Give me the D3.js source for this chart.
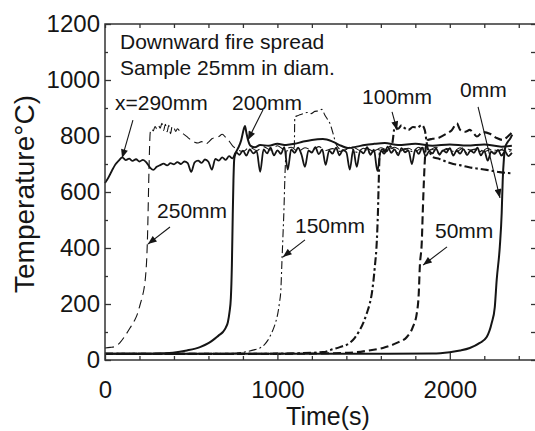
<!DOCTYPE html>
<html><head><meta charset="utf-8">
<script src="https://cdn.jsdelivr.net/npm/d3@7"></script>
<style>
body{margin:0;background:#fff}
svg{display:block}
text{font-family:"Liberation Sans",Arial,sans-serif;fill:#151515}
</style>
</head><body><svg id="c" width="535" height="431"></svg>
<script>
// ---------- data (time s, temperature °C) ----------
const xMajorTicks = [0, 1000, 2000];
const xMinorTicks = [200,400,600,800,1200,1400,1600,1800,2200,2400];
const yMajorTicks = [0,200,400,600,800,1000,1200];
const yMinorTicks = [100,300,500,700,900,1100];

const s290 = [[0,632],[20,652],[40,676],[60,698],[80,712],[100,724],[120,714],[140,719],[160,711],[180,717],[200,709],[220,715],[240,706],[260,688],[280,679],[300,690],[320,696],[340,701],[360,695],[380,703],[400,699],[420,707],[440,700],[460,709],[480,703],[500,672],[520,706],[540,712],[560,704],[580,716],[600,708],[620,680],[640,718],[660,712],[680,724],[700,715],[720,728],[740,720],[760,742],[780,733],[800,748],[820,730],[840,752],[860,738],[880,746],[900,672],[920,752],[940,738],[960,758],[980,731],[1000,749],[1020,736],[1040,760],[1060,680],[1080,752],[1100,740],[1120,758],[1140,733],[1160,690],[1180,748],[1200,741],[1220,760],[1240,735],[1260,752],[1280,697],[1300,748],[1320,737],[1340,758],[1360,731],[1380,750],[1400,742],[1420,680],[1440,752],[1460,690],[1480,747],[1500,738],[1520,760],[1540,733],[1560,751],[1580,675],[1600,748],[1620,737],[1640,762],[1660,740],[1680,752],[1700,731],[1720,757],[1740,742],[1760,749],[1780,700],[1800,751],[1820,736],[1840,758],[1860,728],[1880,745],[1900,738],[1920,756],[1940,733],[1960,749],[1980,741],[2000,757],[2020,730],[2040,748],[2060,737],[2080,753],[2100,732],[2120,748],[2140,740],[2160,758],[2180,731],[2200,747],[2220,712],[2240,744],[2260,736],[2280,750],[2300,730],[2320,745],[2340,728],[2360,740]];

const s250 = [[0,43],[30,45],[58,48],[87,62],[115,85],[145,114],[170,140],[186,161],[200,190],[214,221],[225,250],[232,279],[238,320],[243,375],[247,450],[250,530],[253,620],[256,700],[259,770],[262,810],[270,826],[280,818],[290,834],[300,826],[310,838],[320,828],[330,845],[340,820],[350,842],[360,815],[370,838],[380,808],[390,836],[400,830],[410,816],[420,826],[440,812],[460,805],[480,795],[500,785],[520,778],[540,775],[560,780],[580,770],[600,778],[620,790],[640,795],[660,798],[680,806],[700,795],[720,782],[740,765],[760,755],[800,745],[840,760],[880,748],[920,762],[960,750],[1000,765],[1040,752],[1080,760],[1120,745],[1160,758],[1200,750],[1240,762],[1280,748],[1320,755],[1360,745],[1400,752],[1440,760],[1480,748],[1520,755],[1560,745],[1600,758],[1640,750],[1680,760],[1720,748],[1760,756],[1800,745],[1840,758],[1880,750],[1920,760],[1960,748],[2000,755],[2040,745],[2080,758],[2120,750],[2160,755],[2200,745],[2240,752],[2280,748],[2320,755],[2360,750]];

const s200 = [[0,22],[200,22],[350,24],[394,26],[475,34],[551,46],[600,60],[626,71],[660,88],[684,100],[700,115],[713,136],[722,170],[730,221],[736,339],[741,518],[745,640],[750,720],[760,742],[775,760],[790,785],[805,825],[812,836],[820,812],[830,785],[845,765],[870,760],[900,768],[950,765],[1000,772],[1050,768],[1100,772],[1150,780],[1200,786],[1264,789],[1320,780],[1370,765],[1409,757],[1460,762],[1507,768],[1560,772],[1623,775],[1700,768],[1800,772],[1900,765],[2000,770],[2100,766],[2200,770],[2300,762],[2360,765]];

const s150 = [[0,22],[500,22],[700,23],[823,30],[870,37],[899,43],[925,55],[945,71],[960,88],[974,107],[990,135],[1003,168],[1012,205],[1020,250],[1026,346],[1032,440],[1038,536],[1043,643],[1048,720],[1055,748],[1070,742],[1085,755],[1098,760],[1101,868],[1115,872],[1130,876],[1150,880],[1171,884],[1195,880],[1217,888],[1240,890],[1258,895],[1275,875],[1290,860],[1304,846],[1322,811],[1333,786],[1345,765],[1380,748],[1420,760],[1460,742],[1500,756],[1540,738],[1580,752],[1620,745],[1660,758],[1700,740],[1740,755],[1780,745],[1820,760],[1860,742],[1900,752],[1940,738],[1980,755],[2020,745],[2060,758],[2100,740],[2140,752],[2180,745],[2220,756],[2260,742],[2300,750],[2340,745],[2360,748]];

const s100 = [[0,22],[800,22],[1100,24],[1264,28],[1320,38],[1362,46],[1420,61],[1450,80],[1478,107],[1500,135],[1519,168],[1535,200],[1548,239],[1565,332],[1577,429],[1583,525],[1588,643],[1594,740],[1610,752],[1630,745],[1650,760],[1665,770],[1681,832],[1700,826],[1720,838],[1739,828],[1760,822],[1786,832],[1810,830],[1838,839],[1855,821],[1870,760],[1885,740],[1901,725],[1940,718],[1983,707],[2020,700],[2058,696],[2100,690],[2133,686],[2170,683],[2214,679],[2250,675],[2290,671],[2330,668],[2359,667]];

const s50 = [[0,22],[1000,22],[1300,24],[1461,28],[1540,35],[1612,43],[1693,61],[1751,82],[1786,118],[1809,168],[1820,239],[1826,332],[1838,429],[1843,525],[1850,643],[1858,740],[1870,785],[1900,790],[1940,795],[1980,808],[2010,820],[2041,845],[2060,822],[2090,815],[2116,822],[2140,808],[2157,798],[2191,814],[2232,808],[2272,793],[2307,786],[2336,798],[2360,812]];

const s0 = [[0,22],[1500,22],[1900,23],[2000,28],[2060,34],[2116,43],[2174,61],[2214,82],[2243,132],[2261,189],[2272,286],[2290,404],[2301,525],[2307,643],[2314,720],[2322,760],[2335,778],[2350,790],[2362,805]];

const seriesNames = ["x=290mm","250mm","200mm","150mm","100mm","50mm","0mm"];

// annotations, in data units: [label, t, T]
const titleLines = [["Downward fire spread",87,1111],["Sample 25mm in diam.",87,1018]];
const seriesLabels = [["x=290mm",58,893],["200mm",737,893],["100mm",1491,914],["0mm",2059,939],["250mm",302,507],["150mm",1102,454],["50mm",1914,436]];
// arrows: [t1,T1,t2,T2]
const arrows = [[162,857,99,721],[916,893,829,786],[1665,886,1694,821],[2164,904,2291,579],[377,475,249,414],[1160,429,1032,368],[1984,404,1845,339]];

// ---------- drawing ----------
const svg = d3.select("#c");
const x = d3.scaleLinear().domain([0,2500]).range([105,536]);
const y = d3.scaleLinear().domain([0,1200]).range([360,24]);
const ink = "#151515";

const styles = [
  {d:s290, w:1.8, dash:null},
  {d:s250, w:1.1, dash:"9,5"},
  {d:s200, w:2.0, dash:null},
  {d:s150, w:1.1, dash:"8,3,2,3"},
  {d:s100, w:2.1, dash:"8,3,2.5,3"},
  {d:s50,  w:2.1, dash:"8,4"},
  {d:s0,   w:2.0, dash:null}
];

const line = d3.line().x(d=>x(d[0])).y(d=>y(d[1])).curve(d3.curveMonotoneX);
const plot = svg.append("g");
styles.forEach((s,i)=>{
  plot.append("path").attr("d", line(s.d)).attr("fill","none")
    .attr("stroke", ink).attr("stroke-width", s.w)
    .attr("stroke-linejoin","round")
    .attr("stroke-dasharray", s.dash).attr("data-name", seriesNames[i]);
});

// axes
const fontAx = "24px";
function styleAxis(g){ g.select(".domain").remove(); g.selectAll("line").attr("stroke","#333").attr("stroke-width",1.3); }

svg.append("g").attr("transform","translate(0,360)")
  .call(d3.axisBottom(x).tickValues(xMajorTicks).tickFormat(d3.format("d")).tickSizeInner(-7).tickSizeOuter(0).tickPadding(21))
  .call(styleAxis).call(g=>g.selectAll("text").attr("font-size",fontAx).attr("fill",ink).attr("font-family","Liberation Sans, Arial, sans-serif"));
svg.append("g").attr("transform","translate(0,360)")
  .call(d3.axisBottom(x).tickValues(xMinorTicks).tickFormat("").tickSizeInner(-4).tickSizeOuter(0))
  .call(styleAxis);
svg.append("g").attr("transform","translate(0,24)")
  .call(d3.axisTop(x).tickValues(xMajorTicks.concat(xMinorTicks)).tickFormat("").tickSizeInner(-4).tickSizeOuter(0))
  .call(styleAxis);

svg.append("g").attr("transform","translate(105,0)")
  .call(d3.axisLeft(y).tickValues(yMajorTicks).tickFormat(d3.format("d")).tickSizeInner(-6).tickSizeOuter(0).tickPadding(5))
  .call(styleAxis).call(g=>g.selectAll("text").attr("font-size",fontAx).attr("fill",ink).attr("font-family","Liberation Sans, Arial, sans-serif"));
svg.append("g").attr("transform","translate(105,0)")
  .call(d3.axisLeft(y).tickValues(yMinorTicks).tickFormat("").tickSizeInner(-3).tickSizeOuter(0))
  .call(styleAxis);
svg.append("g").attr("transform","translate(536,0)")
  .call(d3.axisRight(y).tickValues(yMajorTicks.concat(yMinorTicks)).tickFormat("").tickSizeInner(-5).tickSizeOuter(0))
  .call(styleAxis);

// frame
svg.append("rect").attr("x",105).attr("y",24).attr("width",431).attr("height",336)
  .attr("fill","none").attr("stroke","#333").attr("stroke-width",1.5);

// axis titles
svg.append("text").attr("x",328).attr("y",425).attr("text-anchor","middle").attr("font-size","25px").text("Time(s)");
svg.append("text").attr("transform","translate(34,194) rotate(-90)").attr("text-anchor","middle").attr("font-size","28px").text("Temperature°C)");

// annotations
svg.selectAll(".ttl").data(titleLines).join("text").attr("class","ttl")
  .attr("x",d=>x(d[1])).attr("y",d=>y(d[2])).attr("font-size","21px").text(d=>d[0]);
svg.selectAll(".lbl").data(seriesLabels).join("text").attr("class","lbl")
  .attr("x",d=>x(d[1])).attr("y",d=>y(d[2])).attr("font-size","21px").text(d=>d[0]);

svg.append("defs").append("marker").attr("id","ah").attr("viewBox","0 0 10 8")
  .attr("refX",10).attr("refY",4).attr("markerWidth",10).attr("markerHeight",7)
  .attr("markerUnits","userSpaceOnUse").attr("orient","auto")
  .append("path").attr("d","M0,0L10,4L0,8Z").attr("fill",ink);
svg.selectAll(".arr").data(arrows).join("line").attr("class","arr")
  .attr("x1",d=>x(d[0])).attr("y1",d=>y(d[1])).attr("x2",d=>x(d[2])).attr("y2",d=>y(d[3]))
  .attr("stroke",ink).attr("stroke-width",1.1).attr("marker-end","url(#ah)");
</script>
</body></html>
